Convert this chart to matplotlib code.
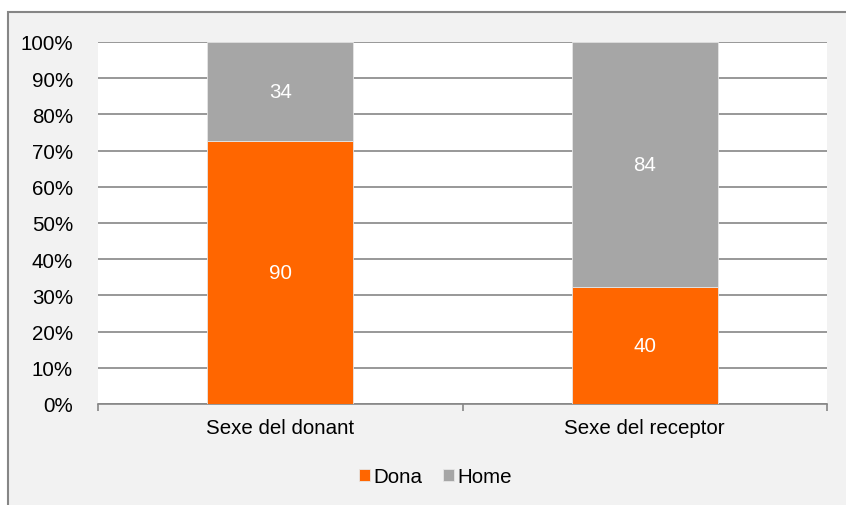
import numpy as np
import matplotlib.pyplot as plt
from matplotlib.patches import Rectangle

plt.rcParams['font.family'] = ['Liberation Sans', 'DejaVu Sans']

categories = ['Sexe del donant', 'Sexe del receptor']
dona = [90, 40]
home = [34, 84]
yticks = [0, 10, 20, 30, 40, 50, 60, 70, 80, 90, 100]

orange = '#ff6600'
grey = '#a6a6a6'
linec = '#868686'
fs = 14.8

fig = plt.figure(figsize=(8.46, 5.06), dpi=100)
fig.patch.set_facecolor('white')
# outer chart frame
fig.patches.append(Rectangle((8 / 846, -0.1), 1.2, 1 - 13 / 506 + 0.1,
                             transform=fig.transFigure, facecolor='#f2f2f2',
                             edgecolor=linec, linewidth=1.5, zorder=-5))

ax = fig.add_axes([98 / 846, 1 - 405 / 506, (827 - 98) / 846, (405 - 43) / 506])
ax.set_zorder(2)
ax.set_facecolor('white')

dona = np.array(dona, dtype=float)
home = np.array(home, dtype=float)
tot = dona + home
p_dona = dona / tot * 100
p_home = home / tot * 100
x = np.arange(len(categories))

b1 = ax.bar(x, p_dona, width=0.4, color=orange, edgecolor='#e6e6e6',
            linewidth=0.6, label='Dona', zorder=3)
b2 = ax.bar(x, p_home, width=0.4, bottom=p_dona, color=grey, edgecolor='#e6e6e6',
            linewidth=0.6, label='Home', zorder=3)
for i in range(len(x)):
    ax.text(x[i], p_dona[i] / 2, f'{int(dona[i])}', ha='center', va='center',
            color='white', fontsize=fs, zorder=4)
    ax.text(x[i], p_dona[i] + p_home[i] / 2, f'{int(home[i])}', ha='center',
            va='center', color='white', fontsize=fs, zorder=4)

ax.set_xlim(-0.5, len(x) - 0.5)
ax.set_ylim(0, 100)
ax.set_yticks(yticks)
ax.set_yticklabels([f'{v}%' for v in yticks], fontsize=fs)
ax.yaxis.grid(True, color=linec, linewidth=1.2, zorder=1)
ax.set_axisbelow(True)
ax.tick_params(axis='y', length=0, pad=18)

ax.set_xticks(x)
ax.set_xticklabels(categories, fontsize=fs)
ax.set_xticks(np.arange(len(x) + 1) - 0.5, minor=True)
ax.tick_params(axis='x', which='major', length=0, pad=10)
ax.tick_params(axis='x', which='minor', length=5, color=linec, width=1.2)

for s in ['top', 'right', 'left']:
    ax.spines[s].set_visible(False)
ax.spines['bottom'].set_color(linec)
ax.spines['bottom'].set_linewidth(1.2)

fig.legend(handles=[b1, b2], labels=['Dona', 'Home'], loc='center',
           bbox_to_anchor=(435 / 846, 1 - 478 / 506), ncol=2, frameon=False,
           fontsize=fs, handlelength=0.55, handleheight=0.55, handletextpad=0.15,
           columnspacing=1.0)

fig.savefig('out.png', dpi=100)
